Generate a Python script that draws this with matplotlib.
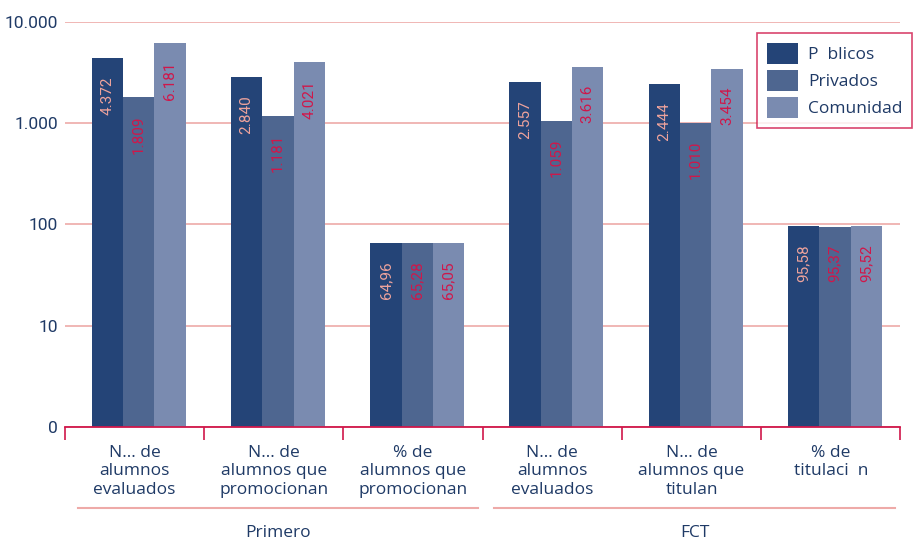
import matplotlib.pyplot as plt
import numpy as np

# Data ###################################################################
categories = ['N... de\nalumnos\nevaluados', 'N... de\nalumnos que\npromocionan',
              '% de\nalumnos que\npromocionan', 'N... de\nalumnos\nevaluados',
              'N... de\nalumnos que\ntitulan', '% de\ntitulaci  n']
groups = ['Primero', 'FCT']
series = ['P  blicos', 'Privados', 'Comunidad']
publicos = [4372, 2840, 64.96, 2557, 2444, 95.58]
privados = [1809, 1181, 65.28, 1059, 1010, 95.37]
comunidad = [6181, 4021, 65.05, 3616, 3454, 95.52]
labels_pub = ['4.372', '2.840', '64,96', '2.557', '2.444', '95,58']
labels_pri = ['1.809', '1.181', '65,28', '1.059', '1.010', '95,37']
labels_com = ['6.181', '4.021', '65,05', '3.616', '3.454', '95,52']
yticks = [1, 10, 100, 1000, 10000]
ytick_labels = ['0', '10', '100', '1.000', '10.000']

# Style ##################################################################
navy = '#1f3a66'
crimson = '#d0174a'
grid_pink = '#eeaaa8'
colors = ['#244477', '#4e6690', '#7a8bb0']
label_colors = ['#eea39c', crimson, crimson]

plt.rcParams['font.family'] = 'Open Sans'

fig = plt.figure(figsize=(9.15, 5.43), dpi=100)
ax = fig.add_axes([0.071, 0.2136, 0.913, 0.746])

x = np.arange(len(categories)) + 0.03
w = 0.225
data = [publicos, privados, comunidad]
texts = [labels_pub, labels_pri, labels_com]
for i, (vals, lab) in enumerate(zip(data, texts)):
    xs = x + (i - 1) * w
    ax.bar(xs, vals, width=w, color=colors[i], label=series[i], zorder=2)
    for xi, v, t in zip(xs, vals, lab):
        ax.annotate(t, (xi, v), xytext=(0, -13), textcoords='offset points',
                    rotation=90, ha='center', va='top', color=label_colors[i],
                    fontsize=11, family='Roboto', zorder=3)

ax.set_yscale('log')
ax.set_ylim(1, 10000)
ax.set_xlim(-0.5, len(categories) - 0.5)
ax.set_yticks(yticks)
ax.set_yticklabels(ytick_labels, family='Roboto', fontsize=12.5, color=navy)
ax.yaxis.set_minor_locator(plt.NullLocator())
ax.tick_params(axis='y', length=0, pad=5)
ax.grid(axis='y', color=grid_pink, linewidth=1.2, zorder=0)
ax.set_axisbelow(True)

# x axis: labels at centres, separator ticks between categories
ax.set_xticks(np.arange(len(categories)))
ax.set_xticklabels(categories, fontsize=12.5, color=navy, linespacing=1.2)
ax.tick_params(axis='x', which='major', length=0, pad=13)
ax.set_xticks(np.arange(len(categories) + 1) - 0.5, minor=True)
ax.tick_params(axis='x', which='minor', length=9, width=1.2, color=crimson)

for s in ['top', 'right', 'left']:
    ax.spines[s].set_visible(False)
ax.spines['bottom'].set_color(crimson)
ax.spines['bottom'].set_linewidth(1.3)
ax.spines['bottom'].set_zorder(4)

# group lines and labels
for g, (x0, x1) in enumerate([(78, 478), (494, 895)]):
    fig.add_artist(plt.Line2D([x0 / 915, x1 / 915], [1 - 508 / 543] * 2,
                              color=grid_pink, linewidth=1.5))
    fig.text((x0 + x1) / 2 / 915, 1 - 533 / 543, groups[g], ha='center', va='center',
             fontsize=12.5, color=navy)

leg = ax.legend(loc='upper left', bbox_to_anchor=(757 / 915, 1 - 33 / 543),
                bbox_transform=fig.transFigure, borderaxespad=0, frameon=True,
                fancybox=False, fontsize=12.5, handlelength=1.8, handleheight=1.5,
                borderpad=0.55, labelspacing=0.35, handletextpad=0.6)
leg.get_frame().set_edgecolor(crimson)
leg.get_frame().set_linewidth(1.2)
for t in leg.get_texts():
    t.set_color(navy)

fig.savefig('out.png', dpi=100)
